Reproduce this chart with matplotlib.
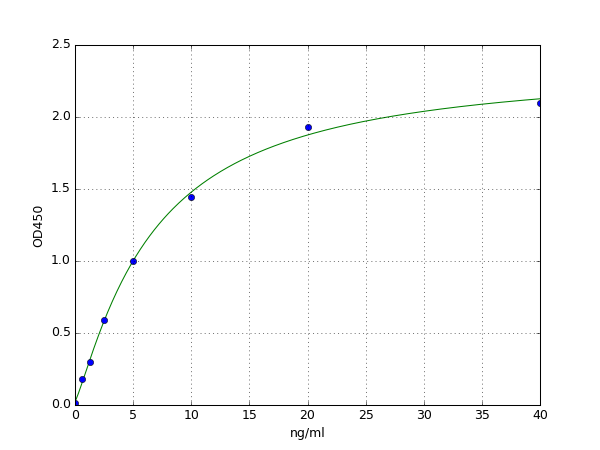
import numpy as np
import matplotlib
matplotlib.use("Agg")
from matplotlib import pyplot as plt

plt.style.use("classic")

conc = np.array([0, 0.625, 1.25, 2.5, 5, 10, 20, 40])
od = np.array([0.012, 0.18, 0.296, 0.593, 1.0, 1.444, 1.93, 2.10])


def four_pl(x, p):
    a, b, c, d = p
    return d + (a - d) / (1 + (x / c) ** b)


# small Levenberg-Marquardt fit of the 4PL standard curve
p = np.array([0.0, 1.0, 10.0, 2.5])
lam = 1e-3
for i in range(500):
    r = od - four_pl(conc, p)
    J = np.zeros((len(conc), 4))
    for k in range(4):
        dp = np.zeros(4)
        dp[k] = 1e-6 * max(abs(p[k]), 1e-3)
        J[:, k] = (four_pl(conc, p + dp) - four_pl(conc, p)) / dp[k]
    A = J.T @ J
    step = np.linalg.solve(A + lam * np.diag(np.diag(A)), J.T @ r)
    p_new = p + step
    if p_new[1] > 0 and p_new[2] > 0 and np.sum((od - four_pl(conc, p_new)) ** 2) < np.sum(r ** 2):
        p = p_new
        lam *= 0.5
    else:
        lam *= 4
print(p)

xs = np.linspace(0, 40, 400)

fig = plt.figure(figsize=(8, 6), dpi=75)
plt.plot(xs, four_pl(xs, p), "g-")
plt.plot(conc, od, "bo")
plt.xlim(0, 40)
plt.ylim(0, 2.5)
plt.grid(True)
plt.xlabel("ng/ml")
plt.ylabel("OD450")
plt.savefig("out.png", dpi=75)
